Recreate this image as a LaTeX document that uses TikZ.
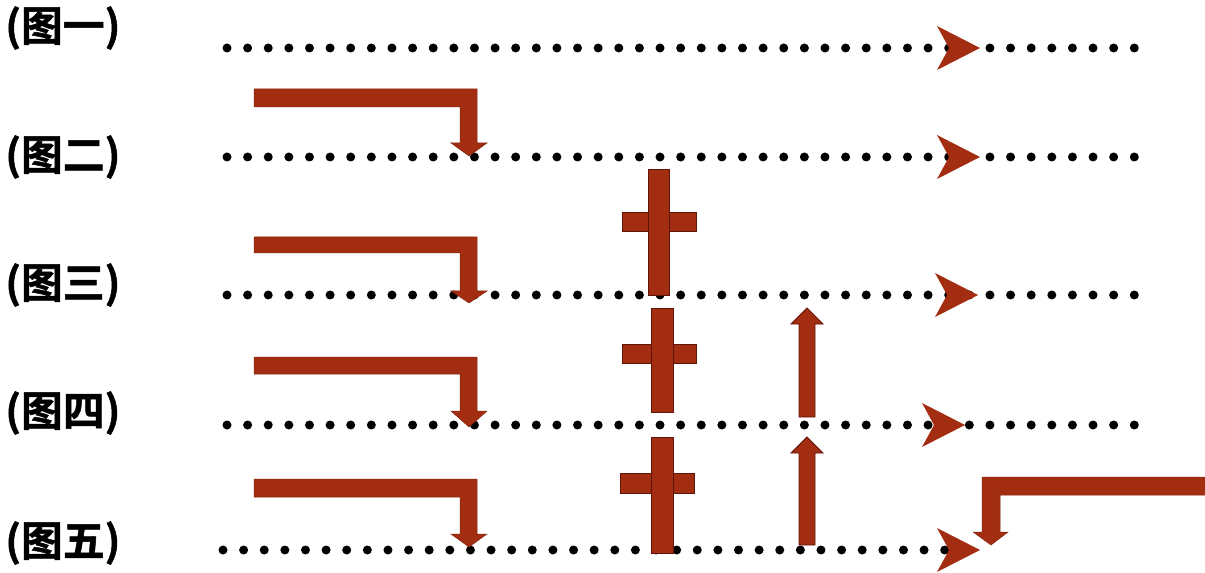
\documentclass[tikz,border=0pt]{standalone}
\usepackage{fontspec}
\newfontfamily\cjk[BoldFont={* Bold},BoldFeatures={FakeBold=1.2}]{Noto Sans CJK SC}
\definecolor{arrowred}{RGB}{163,45,17}
\definecolor{edgered}{RGB}{95,22,8}
\tikzset{
  lbl/.style={anchor=west,inner sep=0pt,font=\cjk\bfseries\fontsize{42}{44}\selectfont},
  dotrow/.style={line width=9bp,line cap=round,dash pattern=on 0pt off 20.62bp},
  shapefill/.style={fill=arrowred,draw=edgered,line width=0.8bp,line join=miter},
  bentfill/.style={fill=arrowred,draw=arrowred!80!black,line width=0.5bp},
  dothead/.pic={\fill[arrowred] (-43,-22) -- (0,0) -- (-43,22) -- (-31,0) -- cycle;}
}
\begin{document}
\begin{tikzpicture}[x=1bp,y=-1bp]
\useasboundingbox (0,0) rectangle (1205,573);
\clip (0,0) rectangle (1205,573);
% labels
\node[lbl] (l1) at (5,28) {(图一)};
\node[lbl] (l2) at (5,157) {(图二)};
\node[lbl] (l3) at (5,285) {(图三)};
\node[lbl] (l4) at (5,413) {(图四)};
\node[lbl] (l5) at (5,543) {(图五)};
% dotted rows
\coordinate (r1s) at (227,48);  \coordinate (r1e) at (1136,48);
\coordinate (r2s) at (227,157); \coordinate (r2e) at (1136,157);
\coordinate (r3s) at (227,295); \coordinate (r3e) at (1136,295);
\coordinate (r4s) at (227,425); \coordinate (r4e) at (1136,425);
\coordinate (r5s) at (223,550); \coordinate (r5e) at (947,550);
\foreach \r in {1,...,5}{\draw[dotrow] (r\r s) -- (r\r e);}
% heads on rows
\pic at (980,48) {dothead};
\pic at (980,157) {dothead};
\pic at (978,295) {dothead};
\pic at (965,425) {dothead};
\pic at (980,550) {dothead};
% bent arrows (down)
\foreach \t/\b/\hb/\tip in {89/107/143/156, 237/253/291/303, 357/374/411/427, 479/497/534/547}{
  \draw[bentfill] (254,\t) -- (477,\t) -- (477,\hb) -- (487,\hb) -- (469,\tip) -- (451,\hb) -- (460,\hb) -- (460,\b) -- (254,\b) -- cycle;
}
% right bent arrow on row 5
\draw[bentfill] (1212,477) -- (982,477) -- (982,532) -- (973,532) -- (991,545) -- (1008,532) -- (1000,532) -- (1000,495) -- (1212,495) -- cycle;
% crosses
\draw[shapefill] (622,212) rectangle (696,231);
\draw[shapefill] (648,169) rectangle (669,295);
\draw[shapefill] (622,344) rectangle (696,363);
\draw[shapefill] (651,308) rectangle (673,412);
\draw[shapefill] (620,473) rectangle (694,493);
\draw[shapefill] (651,437) rectangle (673,553);
% up arrows
\draw[shapefill] (799,417) -- (799,324) -- (791,324) -- (807,308) -- (823,324) -- (815,324) -- (815,417) -- cycle;
\draw[shapefill] (799,545) -- (799,453) -- (791,453) -- (807,437) -- (823,453) -- (815,453) -- (815,545) -- cycle;
\end{tikzpicture}
\end{document}
